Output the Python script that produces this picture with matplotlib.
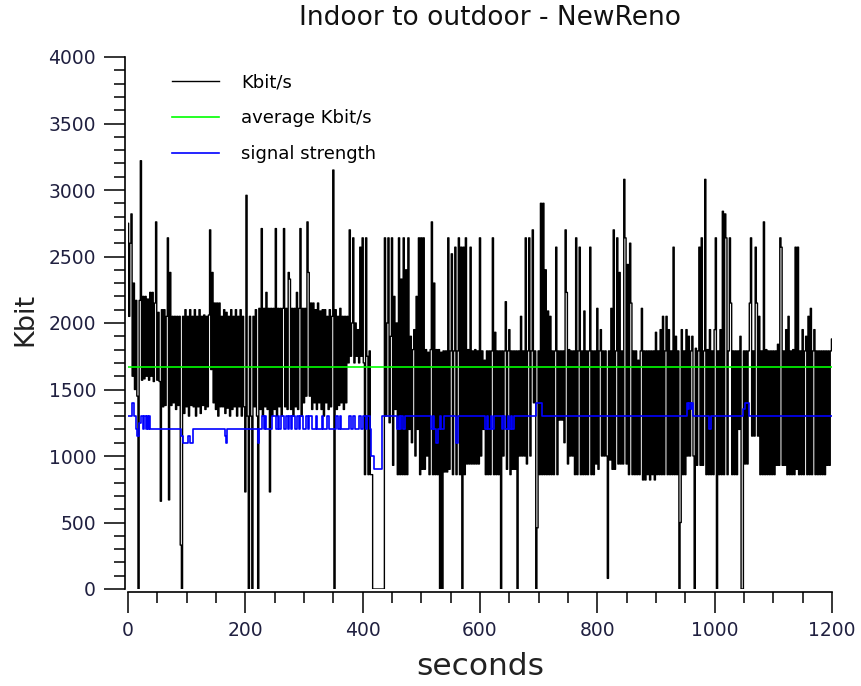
import numpy as np
import matplotlib.pyplot as plt
from matplotlib.ticker import MultipleLocator

# throughput samples, one every 2 s from 0 to 1200 s
kbit = [
    2750, 2050, 2600, 2820, 1600, 2300, 1500, 2170, 1450, 0, 2170, 3220, 1570, 2200, 1580,
    2200, 1600, 2180, 1570, 2230, 1600, 2230, 1560, 2150, 2760, 1570, 2080, 1560, 660, 2100,
    1370, 2100, 1380, 2050, 2640, 670, 2380, 1380, 2050, 1400, 2050, 1350, 2050, 1380, 2050,
    330, 0, 2050, 1320, 2100, 1370, 2050, 1300, 2100, 1380, 2050, 1370, 2100, 1300, 2050,
    1370, 2100, 1320, 2050, 1380, 2060, 1350, 2050, 1370, 2060, 2700, 1650, 2380, 1400, 2150,
    1350, 2150, 1300, 2150, 1370, 2050, 1370, 2100, 1320, 2080, 1360, 2050, 1300, 2100, 1350,
    2050, 1370, 2100, 1300, 2050, 1370, 2100, 1300, 2050, 1370, 730, 2960, 1300, 0, 2050,
    1300, 0, 2050, 1370, 2100, 1300, 0, 2110, 1350, 2710, 1300, 2110, 1370, 2230, 1350,
    2110, 730, 2110, 1300, 2110, 1350, 2710, 1300, 2110, 1370, 2110, 1300, 2110, 2710, 1370,
    2110, 1350, 2380, 2330, 1350, 2110, 1300, 2110, 1370, 2230, 1350, 2110, 2710, 1300, 2110,
    1400, 2110, 1450, 2760, 2380, 1450, 2150, 1350, 2150, 1400, 2100, 1350, 2150, 1400, 2090,
    1350, 2100, 1300, 2100, 1400, 2050, 1350, 2100, 1370, 2050, 3150, 0, 2100, 1350, 2050,
    1380, 2110, 1400, 2050, 1350, 2050, 1400, 2050, 1700, 2700, 1750, 2000, 2640, 1700, 2000,
    1750, 1950, 1700, 2570, 1750, 2640, 1700, 860, 2640, 1750, 860, 1790, 860, 860, 0,
    0, 0, 0, 0, 0, 0, 0, 0, 0, 2640, 1300, 2000, 2640, 1250, 1900,
    2640, 930, 2200, 1350, 2000, 860, 2640, 860, 2330, 860, 2640, 860, 2400, 860, 2640,
    1200, 1900, 1100, 1800, 1950, 1000, 2200, 1200, 2640, 860, 2640, 900, 2640, 900, 1800,
    1000, 1780, 860, 1800, 2760, 860, 2300, 860, 1800, 860, 1800, 0, 1780, 0, 1790,
    880, 1790, 880, 2640, 900, 1790, 2520, 860, 1790, 2570, 860, 1790, 2640, 860, 2570,
    0, 2570, 860, 2640, 940, 1800, 940, 2570, 940, 1790, 940, 1800, 940, 1790, 940,
    2640, 1000, 1790, 1200, 1720, 860, 1790, 860, 1790, 860, 1790, 2640, 860, 1930, 860,
    1790, 860, 1790, 0, 1790, 1000, 1790, 2160, 900, 1790, 1950, 860, 1790, 900, 1790,
    900, 1790, 0, 1790, 1000, 2050, 1000, 1790, 1000, 2640, 940, 1790, 2640, 1000, 1790,
    2700, 1400, 1790, 0, 460, 1790, 860, 2900, 860, 2900, 860, 2400, 860, 2090, 860,
    2050, 860, 1790, 860, 1790, 2570, 860, 1790, 1270, 1790, 1270, 1790, 1100, 2700, 2230,
    940, 1800, 1000, 1790, 1000, 1790, 860, 2640, 860, 1790, 2570, 860, 1790, 860, 2090,
    860, 1790, 860, 1790, 2570, 860, 1790, 860, 1790, 940, 2110, 900, 1790, 1950, 1000,
    1790, 1000, 1790, 1000, 80, 1790, 970, 2110, 900, 2700, 900, 1790, 2640, 940, 2380,
    940, 1790, 940, 3080, 2640, 940, 2440, 860, 2600, 2150, 860, 1790, 860, 1790, 860,
    1720, 860, 1790, 2110, 820, 1790, 820, 1790, 860, 1790, 820, 1790, 860, 1790, 820,
    1930, 860, 1790, 860, 1950, 860, 2050, 860, 1790, 2050, 860, 1950, 860, 1790, 860,
    2570, 860, 1900, 860, 1790, 0, 500, 1950, 860, 1790, 860, 1950, 1000, 1900, 1000,
    1790, 1900, 1000, 0, 1810, 930, 1790, 2570, 930, 2640, 930, 1790, 3080, 860, 1800,
    860, 1950, 860, 1790, 860, 1950, 2640, 0, 1790, 860, 1950, 860, 2840, 860, 2820,
    2640, 860, 1790, 2640, 2150, 860, 1790, 860, 1790, 860, 1790, 1200, 1900, 0, 0,
    1790, 940, 1790, 940, 1790, 2150, 2640, 1150, 1790, 1150, 2570, 2150, 1150, 2050, 860,
    1790, 860, 2760, 860, 1800, 860, 1790, 860, 1790, 860, 1790, 860, 1790, 930, 1840,
    930, 2640, 2570, 930, 1790, 930, 1950, 860, 2050, 860, 1790, 860, 1800, 860, 2570,
    900, 2570, 860, 1790, 860, 1950, 860, 1790, 1900, 860, 2050, 860, 2110, 860, 1790,
    1950, 860, 1790, 860, 1790, 860, 1790, 860, 1790, 860, 1790, 930, 1790, 930, 1790,
    1880,
]
seconds = np.arange(len(kbit)) * 2

avg_kbit = 1670

# signal strength (scaled), value holds from each time until the next
sig_t = [0, 6, 10, 13, 16, 19, 22, 25, 28, 30, 32, 34, 36, 38,
         91, 94, 100, 103, 106, 110, 165, 167, 169, 221, 224,
         229, 231, 233, 235, 246, 252, 256, 258, 260, 266, 269, 272, 275, 277,
         280, 284, 288, 292, 294, 298, 303, 306, 309, 313, 320, 323, 331, 333,
         340, 343, 354, 358, 361, 363, 377, 380, 383, 387, 394, 398, 401, 405,
         408, 412, 414, 420, 433, 459, 462, 464, 466, 468, 472,
         516, 520, 522, 525, 529, 532, 534, 538, 559, 562,
         609, 612, 614, 618, 620, 624, 637, 640, 642, 647, 649, 653, 655, 658,
         695, 705, 953, 955, 957, 959, 961, 963, 990, 994, 1049, 1051, 1059, 1200]
sig_v = [1300, 1400, 1300, 1200, 1150, 1250, 1300, 1200, 1300, 1200, 1300, 1200, 1300, 1200,
         1150, 1100, 1100, 1150, 1100, 1200, 1150, 1100, 1200, 1100, 1200,
         1300, 1200, 1300, 1200, 1300, 1200, 1300, 1200, 1300, 1200, 1300, 1200, 1300, 1200,
         1300, 1200, 1300, 1200, 1300, 1200, 1300, 1200, 1300, 1200, 1300, 1200, 1300, 1200,
         1300, 1200, 1300, 1200, 1300, 1200, 1300, 1200, 1300, 1200, 1300, 1200, 1300, 1200,
         1300, 1200, 1000, 900, 1300, 1200, 1300, 1200, 1300, 1200, 1300,
         1200, 1300, 1200, 1100, 1200, 1300, 1200, 1300, 1100, 1300,
         1200, 1300, 1200, 1300, 1200, 1300, 1200, 1300, 1200, 1300, 1200, 1300, 1200, 1300,
         1400, 1300, 1400, 1350, 1400, 1350, 1400, 1300, 1200, 1300, 1350, 1400, 1300, 1300]

tick_col = '#202040'

fig = plt.figure(figsize=(8.62, 6.86), dpi=100)
ax = fig.add_axes([128 / 862, 97 / 686, 704 / 862, 532 / 686])

ax.plot(seconds, kbit, color='black', lw=1.0, drawstyle='steps-mid', label='Kbit/s')
ax.axhline(avg_kbit, color='#00ff00', lw=1.2, label='average Kbit/s')
ax.step(sig_t, sig_v, where='post', color='#0000ff', lw=1.2, label='signal strength')

ax.set_xlim(0, 1200)
ax.set_ylim(0, 4000)
ax.xaxis.set_major_locator(MultipleLocator(200))
ax.xaxis.set_minor_locator(MultipleLocator(50))
ax.yaxis.set_major_locator(MultipleLocator(500))
ax.yaxis.set_minor_locator(MultipleLocator(100))

for s in ['top', 'right']:
    ax.spines[s].set_visible(False)
for s in ['left', 'bottom']:
    ax.spines[s].set_position(('outward', 2))
    ax.spines[s].set_linewidth(1.2)

ax.tick_params(which='major', length=15, width=1.1, labelsize=13.5, labelcolor=tick_col, pad=6)
ax.tick_params(which='minor', length=8, width=1.1)

fig.text(0.568, 0.974, 'Indoor to outdoor - NewReno', ha='center', va='center', fontsize=19, color='#111111')
fig.text(0.557, 0.029, 'seconds', ha='center', va='center', fontsize=22.5, color='#222222')
fig.text(0.029, 0.534, 'Kbit', ha='center', va='center', rotation=90, fontsize=19.5, color='#222222')

ax.legend(loc='upper left', bbox_to_anchor=(0.04, 1.0), frameon=False, fontsize=13,
          handlelength=2.6, handletextpad=1.2, labelspacing=1.0)

fig.savefig('out.png', dpi=100)
